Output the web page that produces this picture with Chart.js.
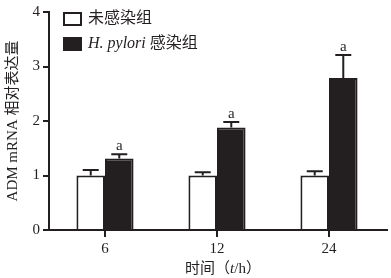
<!DOCTYPE html>
<html>
<head>
<meta charset="utf-8">
<script src="https://cdn.jsdelivr.net/npm/chart.js@4"></script>
<style>
body{margin:0;background:#fff}
#wrap{width:391px;height:278px}
</style>
</head>
<body>
<div id="wrap"><canvas id="grafico"></canvas></div>
<script>
// datos
const horas = ['6', '12', '24'];
const grupos = ['未感染组', 'H. pylori 感染组'];
const sinInfeccion = [1.0, 1.0, 1.0];
const conInfeccion = [1.31, 1.88, 2.79];
const errSin = [0.10, 0.06, 0.08];
const errCon = [0.08, 0.10, 0.42];
const marcas = ['a', 'a', 'a']; // solo en el grupo infectado
const ticksY = [0, 1, 2, 3, 4];
const tituloY = 'ADM mRNA 相对表达量';

const oscuro = '#231f20';
const serif = "'Liberation Serif','Noto Sans CJK SC',serif";

// barras de error, letras, leyenda y título del eje x
const extras = {
    id: 'extras',
    afterDatasetsDraw(chart) {
        const ctx = chart.ctx;
        const y = chart.scales.y;
        const errs = [errSin, errCon];
        chart.data.datasets.forEach((ds, i) => {
            chart.getDatasetMeta(i).data.forEach((bar, j) => {
                const top = y.getPixelForValue(ds.data[j] + errs[i][j]);
                ctx.save();
                ctx.strokeStyle = oscuro;
                ctx.lineWidth = 2;
                ctx.beginPath();
                ctx.moveTo(bar.x, bar.y);
                ctx.lineTo(bar.x, top);
                ctx.moveTo(bar.x - 8, top);
                ctx.lineTo(bar.x + 8, top);
                ctx.stroke();
                if (i === 1) {
                    ctx.fillStyle = oscuro;
                    ctx.font = '15px ' + serif;
                    ctx.textAlign = 'center';
                    ctx.textBaseline = 'alphabetic';
                    ctx.fillText(marcas[j], bar.x, top - 4);
                }
                ctx.restore();
            });
        });
    },
    afterDraw(chart) {
        const ctx = chart.ctx;
        const area = chart.chartArea;
        ctx.save();
        // el eje x sobresale un poco
        ctx.strokeStyle = oscuro;
        ctx.lineWidth = 2;
        ctx.beginPath();
        ctx.moveTo(area.right - 1, area.bottom);
        ctx.lineTo(area.right + 3, area.bottom);
        ctx.stroke();

        // leyenda
        ctx.strokeRect(64, 13, 17, 12);
        ctx.fillStyle = oscuro;
        ctx.fillRect(63, 37, 19, 14);
        ctx.textBaseline = 'middle';
        ctx.textAlign = 'left';
        ctx.font = '16px ' + serif;
        ctx.fillText(grupos[0], 88, 19);
        const partes = grupos[1].split(' 感');
        ctx.font = 'italic 16px ' + serif;
        ctx.fillText(partes[0] + ' ', 88, 44);
        const w = ctx.measureText(partes[0] + ' ').width;
        ctx.font = '16px ' + serif;
        ctx.fillText('感' + partes[1], 88 + w, 44);

        // título del eje x: 时间（t/h）
        const trozos = [['时间（', ''], ['t', 'italic '], ['/h）', '']];
        let total = 0;
        trozos.forEach(t => { ctx.font = t[1] + '15px ' + serif; total += ctx.measureText(t[0]).width; });
        let x = 223 - total / 2;
        trozos.forEach(t => {
            ctx.font = t[1] + '15px ' + serif;
            ctx.fillText(t[0], x, 269);
            x += ctx.measureText(t[0]).width;
        });
        ctx.restore();
    }
};

const ctx = document.getElementById('grafico').getContext('2d');
const grafico = new Chart(ctx, {
    type: 'bar',
    data: {
        labels: horas,
        datasets: [{
            label: grupos[0],
            data: sinInfeccion,
            backgroundColor: '#ffffff',
            borderColor: oscuro,
            borderWidth: 2
        }, {
            label: grupos[1],
            data: conInfeccion,
            backgroundColor: oscuro,
            borderColor: oscuro,
            borderWidth: 2
        }]
    },
    options: {
        responsive: true,
        maintainAspectRatio: false,
        animation: false,
        layout: { padding: { top: 10, right: 6, left: 0, bottom: 0 } },
        datasets: { bar: { categoryPercentage: 0.51, barPercentage: 1.0 } },
        plugins: { legend: { display: false }, tooltip: { enabled: false } },
        scales: {
            x: {
                afterFit: s => { s.height = 48; },
                grid: { offset: false, drawOnChartArea: false, drawTicks: true, tickLength: 7, color: oscuro, lineWidth: 2 },
                border: { display: true, color: oscuro, width: 2 },
                ticks: { color: oscuro, padding: 3, font: { family: serif, size: 15 } }
            },
            y: {
                min: 0,
                max: 4,
                afterFit: s => { s.width = 49; },
                afterBuildTicks: s => { s.ticks = ticksY.map(v => ({ value: v })); },
                grid: { drawOnChartArea: false, drawTicks: true, tickLength: 6, color: oscuro, lineWidth: 2 },
                border: { display: true, color: oscuro, width: 2 },
                ticks: { color: oscuro, padding: 3, font: { family: serif, size: 15 } },
                title: { display: true, text: tituloY, color: oscuro, padding: { top: 4, bottom: 0 }, font: { family: serif, size: 15 } }
            }
        }
    },
    plugins: [extras]
});
</script>
</body>
</html>
